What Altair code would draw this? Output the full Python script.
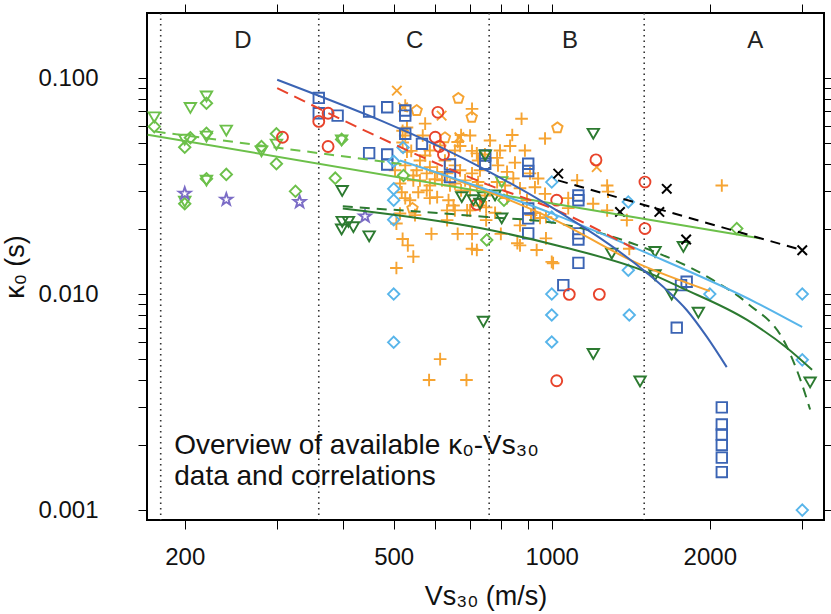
import altair as alt
import pandas as pd

# ---------------- data (Vs30 in m/s, kappa0 in s) ----------------
# light green open triangles / diamonds
lg_tri_vs = [175, 205, 220, 200, 220, 240, 220, 200, 280, 299, 398, 803]
lg_tri_k = [0.0658, 0.0727, 0.0822, 0.0518, 0.0536, 0.0571, 0.0335, 0.0268, 0.0458, 0.0492, 0.0514, 0.033]
lg_dia_vs = [175, 220, 200, 205, 220, 220, 240, 200, 280, 299, 299, 325, 387, 398, 522, 752, 811, 2251]
lg_dia_k = [0.0596, 0.0764, 0.0478, 0.0529, 0.0555, 0.0342, 0.0358, 0.0262, 0.0482, 0.0552, 0.0401, 0.0299,
            0.0344, 0.052, 0.0354, 0.0178, 0.0272, 0.0201]
# purple stars
star_vs = [200, 240, 331, 441]
star_k = [0.0292, 0.0274, 0.0267, 0.0229]
# blue squares
sq_vs = [360, 360, 391, 449, 486, 526, 526, 526, 566, 449, 486, 486, 640, 640, 747, 747, 902, 902, 902, 902,
         902, 1124, 1124, 1124, 1124, 1124, 1052, 1763, 1807, 1730, 2108, 2108, 2108, 2108, 2108, 2108]
sq_k = [0.0809, 0.0687, 0.067, 0.0699, 0.0732, 0.0707, 0.067, 0.0552, 0.0496, 0.0449, 0.0443, 0.0398, 0.0398,
        0.0348, 0.0401, 0.0438, 0.0401, 0.0371, 0.0249, 0.0224, 0.0191, 0.0286, 0.0272, 0.0191, 0.0179, 0.01395,
        0.011, 0.011, 0.0114, 0.00699, 0.00299, 0.00249, 0.00224, 0.0020, 0.00175, 0.0015]
# red circles
circ_vs = [360, 375, 307, 375, 607, 600, 611, 622, 720, 1214, 1022, 1505, 1505, 1080, 1232, 1022]
circ_k = [0.063, 0.0687, 0.0532, 0.0482, 0.0694, 0.0532, 0.0482, 0.0443, 0.026, 0.0418, 0.0272, 0.033, 0.0201,
          0.00997, 0.00997, 0.00397]
# light blue diamonds
lb_vs = [500, 500, 500, 500, 500, 500, 1000, 1000, 1000, 1405, 2000, 3000, 3000, 3000, 1000, 1399, 1399, 1000, 521]
lb_k = [0.0412, 0.0307, 0.0272, 0.0221, 0.01, 0.00598, 0.01, 0.008, 0.006, 0.008, 0.01, 0.01, 0.00496, 0.001,
        0.033, 0.0267, 0.0129, 0.0227, 0.0477]
# dark green open triangles
dg_vs = [399, 399, 410, 419, 398, 449, 674, 709, 741, 747, 1200, 1301, 1573, 1781, 1573, 730, 803, 1692, 1902,
         1200, 1473, 3105, 741, 780]
dg_k = [0.03, 0.0216, 0.0216, 0.0204, 0.0199, 0.0185, 0.0281, 0.0272, 0.0281, 0.0438, 0.0552, 0.0154, 0.01567,
        0.01653, 0.01223, 0.0262, 0.0224, 0.00995, 0.0082, 0.00528, 0.00394, 0.0039, 0.00745, 0.0286]
# black crosses
bx_vs = [1029, 1349, 1603, 1656, 1803, 3000]
bx_k = [0.0361, 0.024, 0.024, 0.0307, 0.0179, 0.01596]
# orange crosses and pentagons
ox_vs = [507, 521, 617, 667, 1218]
ox_k = [0.0874, 0.0732, 0.067, 0.0532, 0.0387]
op_vs = [664, 553, 704, 626, 543, 1025]
op_k = [0.0805, 0.0707, 0.0658, 0.0529, 0.0249, 0.0588]
# orange pluses
plus_vs = [705, 574, 526, 672, 699, 530, 526, 568, 662, 669, 540, 586, 705, 520, 746, 503, 526, 553, 578, 605,
           632, 669, 705, 514, 545, 586, 618, 654, 684, 720, 518, 526, 578, 586, 605, 650, 632, 690, 549, 632,
           590, 662, 705, 520, 532, 545, 705, 506, 514, 506, 720, 613, 584, 688, 876, 841, 971, 833, 720, 724,
           787, 851, 790, 730, 822, 909, 942, 845, 787, 724, 870, 929, 971, 746, 822, 897, 750, 800, 860, 936,
           975, 1000, 913, 950, 750, 1118, 1275, 1280, 1199, 1275, 1390, 1075, 1075, 975, 929, 870, 1006, 2108,
           1405, 520, 530, 574, 586, 545, 636, 654, 699, 561, 626, 654, 599, 672, 557, 640, 699, 613, 763, 561,
           654, 797, 815, 889, 537, 730, 780, 870]
plus_k = [0.072, 0.0615, 0.0745, 0.0545, 0.0542, 0.059, 0.0542, 0.0542, 0.0506, 0.0485, 0.046, 0.0462, 0.046,
          0.0503, 0.0443, 0.0374, 0.0394, 0.0374, 0.0362, 0.0368, 0.0362, 0.0374, 0.0362, 0.0325, 0.0336, 0.0318,
          0.0336, 0.0325, 0.0336, 0.0318, 0.0296, 0.0278, 0.0302, 0.0278, 0.0281, 0.0257, 0.0244, 0.0244, 0.0232,
          0.022, 0.019, 0.019, 0.019, 0.018, 0.0168, 0.0149, 0.0162, 0.0132, 0.0236, 0.0212, 0.016, 0.005, 0.004,
          0.004, 0.0648, 0.0545, 0.0525, 0.0485, 0.0448, 0.0415, 0.0427, 0.0406, 0.0394, 0.0374, 0.0368, 0.0362,
          0.0343, 0.0343, 0.033, 0.033, 0.0309, 0.0312, 0.0291, 0.0286, 0.0278, 0.0272, 0.022, 0.019, 0.0172,
          0.016, 0.0181, 0.0141, 0.0232, 0.0225, 0.0252, 0.0336, 0.0318, 0.0298, 0.0262, 0.0244, 0.022, 0.0278,
          0.025, 0.0227, 0.0237, 0.0168, 0.0139, 0.0318, 0.0162, 0.057, 0.0456, 0.0438, 0.0387, 0.0354, 0.0272,
          0.0244, 0.0244, 0.0415, 0.0415, 0.0394, 0.034, 0.0302, 0.0296, 0.0318, 0.0302, 0.0487, 0.0514, 0.0336,
          0.0462, 0.0462, 0.0318, 0.0462, 0.0272, 0.0257, 0.0238, 0.0208]

# correlation curves
blue_line_vs = [300, 753, 1000, 1519, 1656, 1807, 1973, 2154]
blue_line_k = [0.0982, 0.0373, 0.0252, 0.0125, 0.01043, 0.00844, 0.00635, 0.00459]
red_line_vs = [300, 753, 1023, 1454]
red_line_k = [0.0899, 0.0322, 0.0244, 0.01596]
orange_line_vs = [586, 1000, 1454, 2000]
orange_line_k = [0.0373, 0.0224, 0.0139, 0.01032]
lblue_line_vs = [514, 1000, 1519, 2460, 2998]
lblue_line_k = [0.0415, 0.02365, 0.01546, 0.00909, 0.00704]
dg_solid_vs = [400, 730, 1037, 1519, 1755, 2355, 2806, 3132]
dg_solid_k = [0.0249, 0.0202, 0.01665, 0.01263, 0.01077, 0.00759, 0.00563, 0.00446]
dg_dash_vs = [400, 753, 1023, 1492, 2029, 2355, 2806, 2976, 3105]
dg_dash_k = [0.02547, 0.02274, 0.02127, 0.01648, 0.0116, 0.00909, 0.00569, 0.00401, 0.00292]
lg_solid_vs = [170, 1037, 2493]
lg_solid_k = [0.0547, 0.0259, 0.0181]
lg_dash_vs = [176, 525]
lg_dash_k = [0.0565, 0.0398]
black_line_vs = [1028, 3000]
black_line_k = [0.0336, 0.01596]

# site-class boundaries and labels
class_bounds = [180, 360, 760, 1500]
class_names = ["D", "C", "B", "A"]
class_label_vs = [258, 548, 1083, 2440]
class_label_k = [0.1486, 0.1486, 0.1486, 0.1486]

note_lines = ["Overview of available \u03ba\u2080-Vs\u2083\u2080", "data and correlations"]
note_vs = [191, 191]
note_k = [0.00197, 0.00142]

x_ticks = [200, 300, 400, 500, 600, 700, 800, 900, 1000, 2000, 3000]
y_ticks = [0.001, 0.002, 0.003, 0.004, 0.005, 0.006, 0.007, 0.008, 0.009,
           0.01, 0.02, 0.03, 0.04, 0.05, 0.06, 0.07, 0.08, 0.09, 0.1]

# ---------------- styling ----------------
FONT = "Liberation Sans"
BLUE = "#3b64b4"
RED = "#e8432b"
ORANGE = "#f6a432"
LBLUE = "#58b5ea"
LGREEN = "#6cc04a"
DGREEN = "#2c7a30"
PURPLE = "#7b6cc6"

xs = alt.Scale(type="log", domain=[169.5, 3300], nice=False, zero=False)
ys = alt.Scale(type="log", domain=[0.0009, 0.2], nice=False, zero=False)

PLUS = "M-1,0H1M0,-1V1"
CROSS = "M-0.8,-0.8L0.8,0.8M-0.8,0.8L0.8,-0.8"
PENT = "M0,-1L0.951,-0.309L0.588,0.809L-0.588,0.809L-0.951,-0.309Z"
STAR = ("M0,-1L0.235,-0.324L0.951,-0.309L0.38,0.124L0.588,0.809L0,0.4L-0.588,0.809"
        "L-0.38,0.124L-0.951,-0.309L-0.235,-0.324Z")


def df(vs, ks):
    return pd.DataFrame({"vs": vs, "k": ks})


def enc(chart, xaxis=None, yaxis=None):
    return chart.encode(
        x=alt.X("vs:Q", scale=xs, axis=xaxis),
        y=alt.Y("k:Q", scale=ys, axis=yaxis),
    )


def points(vs, ks, shape, color, size=120, sw=1.9):
    return enc(alt.Chart(df(vs, ks)).mark_point(
        shape=shape, filled=False, color=color, size=size, strokeWidth=sw, opacity=1, clip=True))


def line(vs, ks, color, dash=None, sw=2):
    kw = dict(color=color, strokeWidth=sw, clip=True, interpolate="monotone")
    if dash is not None:
        kw["strokeDash"] = dash
    return enc(alt.Chart(df(vs, ks)).mark_line(**kw))


x_label_expr = "indexof([200, 500, 1000, 2000], datum.value) >= 0 ? format(datum.value, 'd') : ''"
y_label_expr = ("abs(log(datum.value)/log(10) - round(log(datum.value)/log(10))) < 0.001 "
                "? format(datum.value, '.3f') : ''")

axis_common = dict(grid=False, domain=False, ticks=True, tickColor="black", tickWidth=1, tickSize=9,
                   labelFont=FONT, labelFontSize=24, labelColor="#111", titleFont=FONT,
                   titleFontSize=27, titleColor="#111", titleFontWeight="normal",
                   labelOverlap=False, labelFlush=False)

x_bottom = alt.Axis(orient="bottom", values=x_ticks, labelExpr=x_label_expr, title="Vs\u2083\u2080 (m/s)",
                    labelPadding=16, titlePadding=14, **axis_common)
y_left = alt.Axis(orient="left", values=y_ticks, labelExpr=y_label_expr, title="\u03ba\u2080 (s)",
                  labelPadding=40, titlePadding=8, **axis_common)
x_top = alt.Axis(orient="top", values=x_ticks, labels=False, title=None, **axis_common)
y_right = alt.Axis(orient="right", values=y_ticks, labels=False, title=None, **axis_common)

layers = []
# boundaries
layers.append(alt.Chart(pd.DataFrame({"vs": class_bounds})).mark_rule(
    color="#333", strokeDash=[1.5, 4], strokeWidth=1.6).encode(
    x=alt.X("vs:Q", scale=xs, axis=None)))

# points
layers.append(points(plus_vs, plus_k, PLUS, ORANGE, size=160, sw=1.9))
layers.append(points(ox_vs, ox_k, CROSS, ORANGE, size=140, sw=1.9))
layers.append(points(op_vs, op_k, PENT, ORANGE, size=120))
layers.append(points(lg_tri_vs, lg_tri_k, "triangle-down", LGREEN, size=130))
layers.append(points(lg_dia_vs, lg_dia_k, "diamond", LGREEN, size=130))
layers.append(points(star_vs, star_k, STAR, PURPLE, size=160))
layers.append(points(sq_vs, sq_k, "square", BLUE, size=110))
layers.append(points(circ_vs, circ_k, "circle", RED, size=120))
layers.append(points(lb_vs, lb_k, "diamond", LBLUE, size=130))
layers.append(points(dg_vs, dg_k, "triangle-down", DGREEN, size=130))
layers.append(points(bx_vs, bx_k, CROSS, "black", size=140, sw=2))

# correlation lines
layers.append(line(lg_solid_vs, lg_solid_k, LGREEN))
layers.append(line(lg_dash_vs, lg_dash_k, LGREEN, dash=[10, 7]))
layers.append(line(dg_solid_vs, dg_solid_k, DGREEN))
layers.append(line(dg_dash_vs, dg_dash_k, DGREEN, dash=[10, 7]))
layers.append(line(orange_line_vs, orange_line_k, ORANGE))
layers.append(line(lblue_line_vs, lblue_line_k, LBLUE))
layers.append(line(red_line_vs, red_line_k, RED, dash=[12, 7]))
layers.append(line(blue_line_vs, blue_line_k, BLUE))
layers.append(line(black_line_vs, black_line_k, "black", dash=[10, 7]))

# class labels (carry bottom/left axes)
cls = pd.DataFrame({"vs": class_label_vs, "k": class_label_k, "t": class_names})
layers.append(alt.Chart(cls).mark_text(font=FONT, fontSize=24, color="#222").encode(
    x=alt.X("vs:Q", scale=xs, axis=x_bottom),
    y=alt.Y("k:Q", scale=ys, axis=y_left),
    text="t:N"))

# annotation (carries mirrored top/right axes)
note = pd.DataFrame({"vs": note_vs, "k": note_k, "t": note_lines})
layers.append(alt.Chart(note).mark_text(font=FONT, fontSize=28, color="#111", align="left",
                                        baseline="middle").encode(
    x=alt.X("vs:Q", scale=xs, axis=x_top),
    y=alt.Y("k:Q", scale=ys, axis=y_right),
    text="t:N"))

chart = alt.layer(*layers).resolve_axis(x="independent", y="independent").properties(
    width=677, height=507,
    autosize=alt.AutoSizeParams(type="none"),
    padding={"left": 147, "top": 13, "right": 7, "bottom": 94},
    background="white",
).configure_view(stroke="black", strokeWidth=2)

chart.save("out.html", embed_options={"renderer": "svg", "actions": False})
